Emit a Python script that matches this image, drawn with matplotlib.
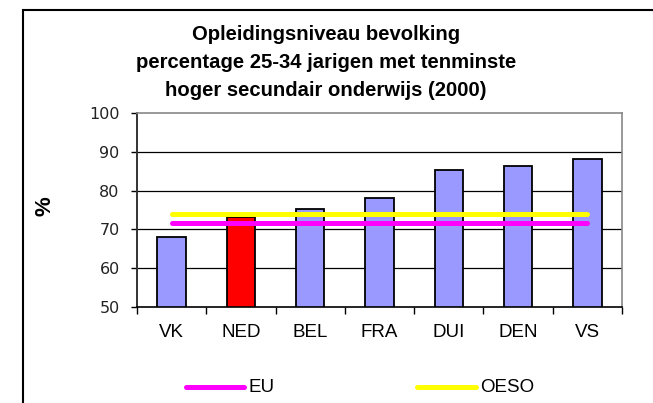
import numpy as np
import matplotlib.pyplot as plt
from matplotlib.patches import Rectangle
from matplotlib.lines import Line2D

# data
landen = ["VK", "NED", "BEL", "FRA", "DUI", "DEN", "VS"]
percentage = [68.0, 73.3, 75.3, 78.0, 85.3, 86.4, 88.1]
eu = [71.7] * len(landen)
oeso = [74.0] * len(landen)
titel = ["Opleidingsniveau bevolking",
         "percentage 25-34 jarigen met tenminste",
         "hoger secundair onderwijs (2000)"]

W, H = 653, 403
fig = plt.figure(figsize=(W / 100, H / 100), dpi=100)
ax = fig.add_axes([137 / W, 1 - 307 / H, (622 - 137) / W, (307 - 113) / H])

x = np.arange(len(landen))
kleuren = ["#FF0000" if l == "NED" else "#9999FF" for l in landen]
ax.bar(x, percentage, width=0.41, color=kleuren, edgecolor="black",
       linewidth=1.3, zorder=2)

ax.plot(x, eu, color="#FF00FF", lw=3.6, solid_capstyle="round", zorder=3)
ax.plot(x, oeso, color="#FFFF00", lw=3.6, solid_capstyle="round", zorder=3)

ax.set_xlim(-0.5, len(landen) - 0.5)
ax.set_ylim(50, 100)
ax.set_yticks([50, 60, 70, 80, 90, 100])
for v in [60, 70, 80, 90]:
    ax.axhline(v, color="black", lw=0.9, zorder=1)

ax.spines["top"].set_color("#888888")
ax.spines["right"].set_color("#888888")
ax.spines["top"].set_linewidth(1.2)
ax.spines["right"].set_linewidth(1.2)
ax.spines["left"].set_color("#333333")
ax.spines["left"].set_linewidth(1.4)
ax.spines["bottom"].set_linewidth(1.2)

ax.set_xticks(x)
ax.set_xticklabels(landen, fontfamily="Liberation Sans", fontsize=13.5)
ax.set_xticks(np.arange(-0.5, len(landen)), minor=True)
ax.tick_params(axis="x", which="major", length=0, pad=12)
ax.tick_params(axis="x", which="minor", length=5, width=1, direction="out")
ax.tick_params(axis="y", length=4.5, width=1, pad=8, labelsize=11.5,
               labelcolor="#222222")

ax.set_ylabel("%", fontsize=16, fontweight="bold", fontfamily="Liberation Sans",
              labelpad=0)
ax.yaxis.set_label_coords((56 - 137) / (622 - 137), 0.52)

for i, t in enumerate(titel):
    fig.text(326 / W, 1 - (34 + 28 * i) / H, t, ha="center", va="center",
             fontsize=14.6, fontweight="bold", fontfamily="Liberation Sans")

# legenda
ly = 1 - 387 / H
for (x0, x1, kleur, naam) in [(186, 244, "#FF00FF", "EU"),
                              (417, 476, "#FFFF00", "OESO")]:
    fig.add_artist(Line2D([x0 / W, x1 / W], [ly, ly], color=kleur, lw=3.6,
                          solid_capstyle="round", transform=fig.transFigure))
    fig.text((x1 + 4) / W, ly, naam, ha="left", va="center", fontsize=13.5,
             fontfamily="Liberation Sans")

fig.patches.append(Rectangle((23 / W, -0.1), 1.0, 1 - 10 / H + 0.1,
                             transform=fig.transFigure, fill=False,
                             edgecolor="black", lw=1.5))

fig.savefig("out.png", dpi=100)
